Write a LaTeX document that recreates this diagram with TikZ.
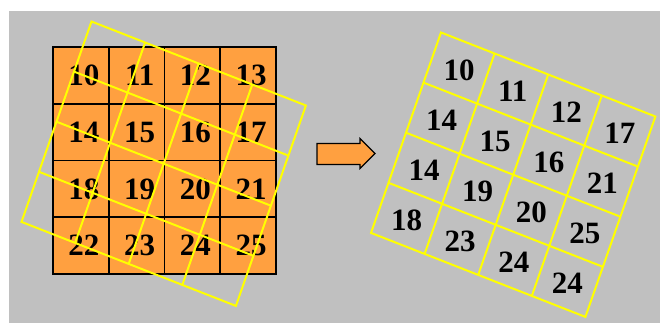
\documentclass[tikz,border=0pt]{standalone}
\usepackage{fontspec}
\setmainfont{Liberation Serif}
\definecolor{bgGray}{RGB}{192,192,192}
\definecolor{cellOrange}{RGB}{255,160,64}
\definecolor{gridYellow}{RGB}{255,255,0}

\begin{document}
\begin{tikzpicture}[
  x=1pt, y=-1pt,
  every node/.style={font=\fontsize{31}{31}\selectfont\bfseries, inner sep=0pt},
  cell/.style={
    fill=cellOrange,
    draw=black,
    line width=1.8pt,
    minimum width=55.75pt,
    minimum height=56.75pt
  },
  num/.style={text=black},
  ygrid/.style={draw=gridYellow, line width=2pt, line join=miter},
  tilted/.style={x={(53.6pt,-21pt)}, y={(-17.5pt,-50.1pt)}},
  bigarrow/.style={fill=cellOrange, draw=black, line width=1.2pt}
]
\useasboundingbox (0,0) rectangle (660,323);
\fill[bgGray] (9,11) rectangle (660,323);

% original block
\foreach \i in {0,...,3}
  \foreach \j in {0,...,3} {
    \pgfmathtruncatemacro\n{10+4*\i+\j}
    \node[cell] (c\n) at (53+55.75*\j+27.9, 47+56.75*\i+28.4) {};
    \node[num, xshift=3pt] (n\n) at (c\n) {\n};
  }

% rotated grid over it
\begin{scope}[shift={(91.5,21.5)}, tilted]
  \draw[ygrid] (0,0) -- (4,0) -- (4,4) -- (0,4) -- cycle;
  \foreach \k in {1,2,3} {
    \draw[ygrid] (\k,0) -- (\k,4);
    \draw[ygrid] (0,\k) -- (4,\k);
  }
\end{scope}

% arrow
\draw[bigarrow] (317,143.5) -- ++(43,0) -- ++(0,-5) -- ++(15,15)
  -- ++(-15,15) -- ++(0,-4) -- ++(-43,0) -- cycle;

% resampled block
\begin{scope}[shift={(441,32.5)}, tilted]
  \draw[ygrid] (0,0) -- (4,0) -- (4,4) -- (0,4) -- cycle;
  \foreach \k in {1,2,3} {
    \draw[ygrid] (\k,0) -- (\k,4);
    \draw[ygrid] (0,\k) -- (4,\k);
  }
  \foreach \lab [count=\k from 0] in {10,11,12,17,14,15,16,21,14,19,20,25,18,23,24,24} {
    \pgfmathtruncatemacro\row{\k/4}
    \pgfmathtruncatemacro\col{mod(\k,4)}
    \node[num, yshift=-2pt] (r\k) at (\col+0.5, \row+0.5) {\lab};
  }
\end{scope}
\end{tikzpicture}
\end{document}
